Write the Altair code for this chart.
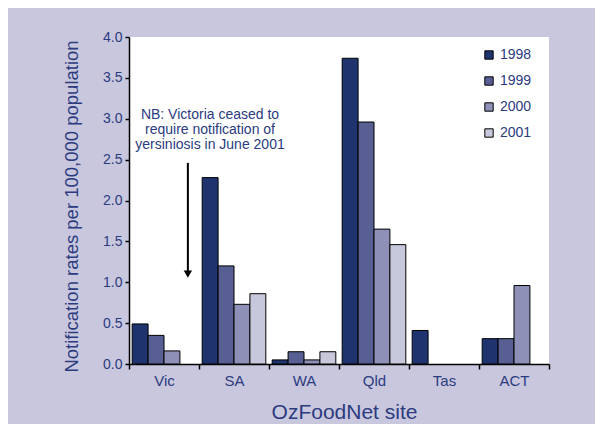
import altair as alt
import pandas as pd

sites = ["Vic", "SA", "WA", "Qld", "Tas", "ACT"]
years = ["1998", "1999", "2000", "2001"]
rates_1998 = [0.49, 2.28, 0.05, 3.74, 0.41, 0.31]
rates_1999 = [0.35, 1.20, 0.15, 2.96, 0.00, 0.31]
rates_2000 = [0.16, 0.73, 0.05, 1.65, 0.00, 0.96]
rates_2001 = [0.00, 0.86, 0.15, 1.46, 0.00, 0.00]
colors = ["#1f346e", "#585f92", "#8e90b7", "#c8c8dc"]

note_lines = "NB: Victoria ceased to\nrequire notification of\nyersiniosis in June 2001"
arrow_site = "Vic"
arrow_year = "2001"
arrow_top = 2.46
arrow_bottom = 1.12
arrow_head = 1.10
note_y = 3.05

NAVY = "#2b3b80"
BG = "#c9c7dd"
FONT = "Liberation Sans"

rows = []
for yr, vals in zip(years, [rates_1998, rates_1999, rates_2000, rates_2001]):
    for s, v in zip(sites, vals):
        rows.append({"site": s, "year": yr, "rate": v})
df = pd.DataFrame(rows)

xscale = alt.Scale(domain=sites, paddingInner=0, paddingOuter=0)
xoff_scale = alt.Scale(domain=years, paddingInner=0, paddingOuter=0.2)
yscale = alt.Scale(domain=[0, 4], nice=False)

bars = alt.Chart(df).transform_filter("datum.rate > 0").mark_bar(
    stroke="black", strokeWidth=1, opacity=1
).encode(
    x=alt.X("site:N", scale=xscale, sort=sites,
            axis=alt.Axis(title="OzFoodNet site", labelAngle=0, tickBand="extent",
                          domainColor="black", domainWidth=1.5, tickColor="black",
                          tickSize=5, tickWidth=1.5, labelFontSize=15, labelColor=NAVY,
                          labelFont=FONT, labelPadding=4, titleFont=FONT,
                          titleFontSize=21, titleFontWeight="normal", titleColor=NAVY,
                          titleX=215, titleY=54, titleBaseline="alphabetic")),
    xOffset=alt.XOffset("year:N", scale=xoff_scale, sort=years),
    y=alt.Y("rate:Q", scale=yscale,
            axis=alt.Axis(title="Notification rates per 100,000 population",
                          values=[0, 0.5, 1, 1.5, 2, 2.5, 3, 3.5, 4], format=".1f",
                          grid=False, domainColor="black", domainWidth=1.5,
                          tickColor="black", tickSize=4, tickWidth=1.5,
                          labelFontSize=14, labelColor=NAVY, labelFont=FONT,
                          labelPadding=3, titleFont=FONT, titleFontSize=18.5,
                          titleFontWeight="normal", titleColor=NAVY,
                          titleX=-52, titleY=169, titleBaseline="alphabetic")),
    color=alt.Color("year:N", scale=alt.Scale(domain=years, range=colors),
                    legend=alt.Legend(title=None, orient="none", legendX=353, legendY=11,
                                      symbolType="square", symbolSize=70,
                                      symbolStrokeColor="black", symbolStrokeWidth=1,
                                      symbolOpacity=1, labelFontSize=14,
                                      labelColor=NAVY, labelFont=FONT, rowPadding=12,
                                      labelOffset=4)),
)

arrow_df = pd.DataFrame([{"site": arrow_site, "year": arrow_year,
                          "top": arrow_top, "bottom": arrow_bottom, "head": arrow_head}])

arrow_line = alt.Chart(arrow_df).mark_rule(color="black", strokeWidth=2).encode(
    x=alt.X("site:N", scale=xscale, sort=sites),
    xOffset=alt.XOffset("year:N", scale=xoff_scale, sort=years),
    y=alt.Y("top:Q", scale=yscale),
    y2="bottom:Q",
)
arrow_tip = alt.Chart(arrow_df).mark_point(
    shape="triangle-down", filled=True, color="black", size=70, opacity=1
).encode(
    x=alt.X("site:N", scale=xscale, sort=sites),
    xOffset=alt.XOffset("year:N", scale=xoff_scale, sort=years),
    y=alt.Y("head:Q", scale=yscale),
)

note_df = pd.DataFrame([{"text": note_lines, "y": note_y}])
note = alt.Chart(note_df).mark_text(
    font=FONT, fontSize=14, color=NAVY, align="center",
    baseline="middle", lineBreak="\n", lineHeight=15
).encode(
    x=alt.value(81),
    y=alt.Y("y:Q", scale=yscale),
    text="text:N",
)

chart = alt.layer(bars, arrow_line, arrow_tip, note).properties(
    width=420, height=327,
    autosize=alt.AutoSizeParams(type="none"),
    padding={"left": 121, "top": 29, "right": 46, "bottom": 60},
    background=BG,
).configure_view(fill="white", stroke=None)

chart.save("out.html", embed_options={"renderer": "svg", "actions": False})
